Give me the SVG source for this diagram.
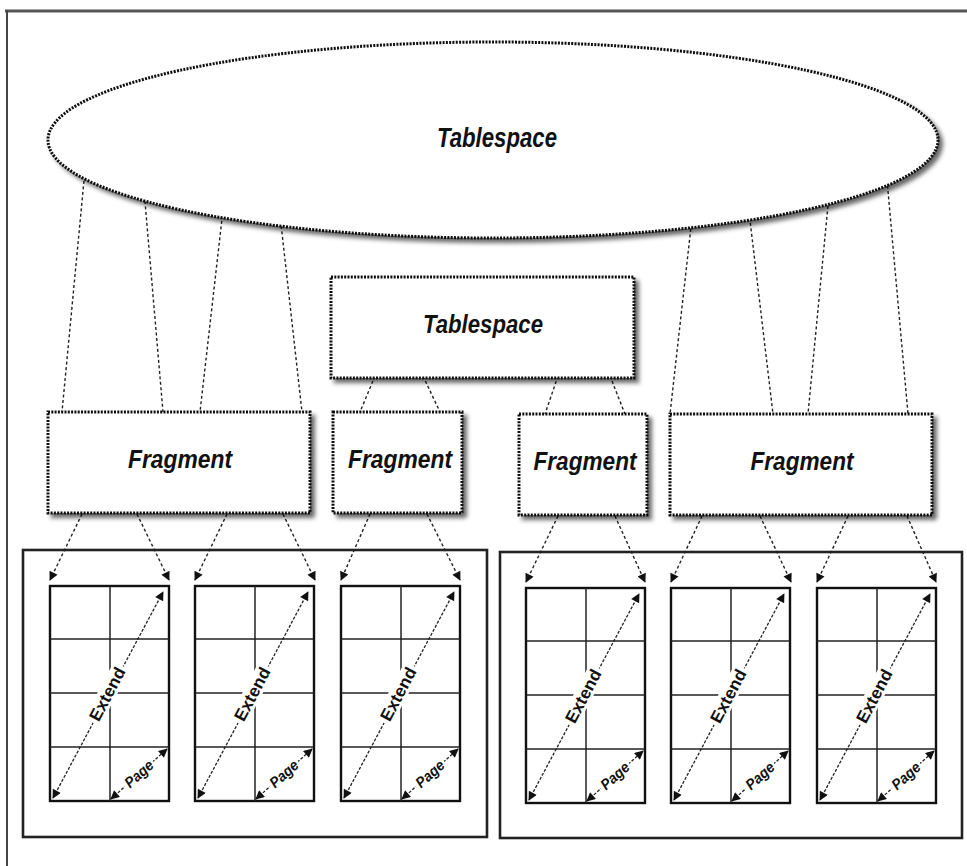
<svg xmlns="http://www.w3.org/2000/svg" width="967" height="866" viewBox="0 0 967 866">
<style>
.lbl{font-family:"Liberation Sans Narrow","Liberation Sans",Arial,sans-serif;font-weight:bold;font-style:italic;fill:#111;text-anchor:middle}
.node{fill:#fff;stroke:#111;stroke-width:3;stroke-dasharray:2 1.3}
.con{fill:none;stroke:#222;stroke-width:1.4;stroke-dasharray:3 2.5}
.arr{fill:none;stroke:#222;stroke-width:1.4;stroke-dasharray:3 2.5;marker-end:url(#ah)}
.cont{fill:none;stroke:#222;stroke-width:2.6}
.frm{fill:#fff;stroke:#111;stroke-width:2.4}
.gl{stroke:#222;stroke-width:1.5}
.bg{fill:#fff;stroke:none}
.dim{fill:none;stroke:#222;stroke-width:1.3;stroke-dasharray:3 1.6;marker-start:url(#ah2);marker-end:url(#ah2)}
.small{font-family:"Liberation Sans Narrow","Liberation Sans",Arial,sans-serif;font-weight:bold;fill:#111;text-anchor:middle}
</style>
<defs>
<filter id="sh" x="-10%" y="-10%" width="130%" height="140%">
<feGaussianBlur in="SourceAlpha" stdDeviation="2"/>
<feOffset dx="4" dy="4" result="b"/>
<feFlood flood-color="#000" flood-opacity="0.6"/>
<feComposite in2="b" operator="in" result="s"/>
<feMerge><feMergeNode in="s"/><feMergeNode in="SourceGraphic"/></feMerge>
</filter>
<marker id="ah" viewBox="0 0 10 10" refX="9" refY="5" markerWidth="11" markerHeight="9" markerUnits="userSpaceOnUse" orient="auto">
<path d="M0,0 L10,5 L0,10 Z" fill="#111"/>
</marker>
<marker id="ah2" viewBox="0 0 10 10" refX="9" refY="5" markerWidth="11" markerHeight="9" markerUnits="userSpaceOnUse" orient="auto-start-reverse">
<path d="M0,0 L10,5 L0,10 Z" fill="#111"/>
</marker>
<g id="gridT">
<rect class="frm" x="0" y="0" width="119" height="215"/>
<line class="gl" x1="60" y1="0" x2="60" y2="215"/>
<line class="gl" x1="0" y1="53" x2="119" y2="53"/>
<line class="gl" x1="0" y1="107" x2="119" y2="107"/>
<line class="gl" x1="0" y1="161" x2="119" y2="161"/>
<line class="dim" x1="3" y1="212" x2="113" y2="6"/>
<g transform="translate(57,108) rotate(-62)">
<rect class="bg" x="-32" y="-9" width="64" height="18"/>
<text class="small" x="0" y="6" font-size="17" textLength="58" lengthAdjust="spacingAndGlyphs">Extend</text>
</g>
<line class="dim" x1="61" y1="213" x2="117" y2="163"/>
<g transform="translate(89,188) rotate(-42)">
<rect class="bg" x="-19" y="-8" width="38" height="16"/>
<text class="small" x="0" y="5" font-size="15" font-style="italic" textLength="33" lengthAdjust="spacingAndGlyphs">Page</text>
</g>
</g>
</defs>
<rect width="967" height="866" fill="#fff"/>
<g id="frame">
<line x1="5" y1="11" x2="967" y2="11" stroke="#555" stroke-width="3"/>
<line x1="7" y1="10" x2="7" y2="866" stroke="#444" stroke-width="2"/>
</g>
<g id="connectors">
<line class="con" x1="85" y1="170" x2="62" y2="412"/>
<line class="con" x1="144" y1="190" x2="163" y2="412"/>
<line class="con" x1="223" y1="210" x2="200" y2="412"/>
<line class="con" x1="280" y1="215" x2="302" y2="412"/>
<line class="con" x1="692" y1="218" x2="670" y2="414"/>
<line class="con" x1="749" y1="212" x2="773" y2="414"/>
<line class="con" x1="829" y1="195" x2="808" y2="414"/>
<line class="con" x1="887" y1="180" x2="908" y2="414"/>
<line class="con" x1="375" y1="376" x2="360" y2="412"/>
<line class="con" x1="423" y1="376" x2="440" y2="412"/>
<line class="con" x1="558" y1="376" x2="545" y2="414"/>
<line class="con" x1="610" y1="376" x2="625" y2="414"/>
<line class="arr" x1="82" y1="514" x2="50" y2="580"/>
<line class="arr" x1="137" y1="514" x2="169" y2="580"/>
<line class="arr" x1="227" y1="514" x2="195" y2="580"/>
<line class="arr" x1="283" y1="514" x2="315" y2="580"/>
<line class="arr" x1="370" y1="514" x2="341" y2="580"/>
<line class="arr" x1="427" y1="514" x2="460" y2="580"/>
<line class="arr" x1="558" y1="516" x2="526" y2="582"/>
<line class="arr" x1="615" y1="516" x2="645" y2="582"/>
<line class="arr" x1="702" y1="516" x2="671" y2="582"/>
<line class="arr" x1="760" y1="516" x2="791" y2="582"/>
<line class="arr" x1="848" y1="516" x2="817" y2="582"/>
<line class="arr" x1="907" y1="516" x2="936" y2="582"/>
</g>
<g id="tablespace-ellipse">
<ellipse class="node" cx="493" cy="140" rx="445" ry="98" filter="url(#sh)"/>
<text class="lbl" x="497" y="147" font-size="27" textLength="120" lengthAdjust="spacingAndGlyphs">Tablespace</text>
</g>
<g id="tablespace-box">
<rect class="node" x="331" y="277" width="303" height="101" filter="url(#sh)"/>
<text class="lbl" x="483" y="333" font-size="25" textLength="120" lengthAdjust="spacingAndGlyphs">Tablespace</text>
</g>
<g id="fragment1">
<rect class="node" x="48" y="412" width="262" height="101" filter="url(#sh)"/>
<text class="lbl" x="180" y="468" font-size="25" textLength="104" lengthAdjust="spacingAndGlyphs">Fragment</text>
</g>
<g id="fragment2">
<rect class="node" x="333" y="412" width="129" height="101" filter="url(#sh)"/>
<text class="lbl" x="400" y="468" font-size="25" textLength="104" lengthAdjust="spacingAndGlyphs">Fragment</text>
</g>
<g id="fragment3">
<rect class="node" x="519" y="414" width="128" height="101" filter="url(#sh)"/>
<text class="lbl" x="585" y="470" font-size="25" textLength="103" lengthAdjust="spacingAndGlyphs">Fragment</text>
</g>
<g id="fragment4">
<rect class="node" x="670" y="414" width="262" height="101" filter="url(#sh)"/>
<text class="lbl" x="802" y="470" font-size="25" textLength="103" lengthAdjust="spacingAndGlyphs">Fragment</text>
</g>
<g id="container-left">
<rect class="cont" x="23" y="550" width="464" height="287"/>
<use href="#gridT" transform="translate(50,586)"/>
<use href="#gridT" transform="translate(195,586)"/>
<use href="#gridT" transform="translate(341,586)"/>
</g>
<g id="container-right">
<rect class="cont" x="500" y="552" width="462" height="286"/>
<use href="#gridT" transform="translate(526,588)"/>
<use href="#gridT" transform="translate(671,588)"/>
<use href="#gridT" transform="translate(817,588)"/>
</g>
</svg>
